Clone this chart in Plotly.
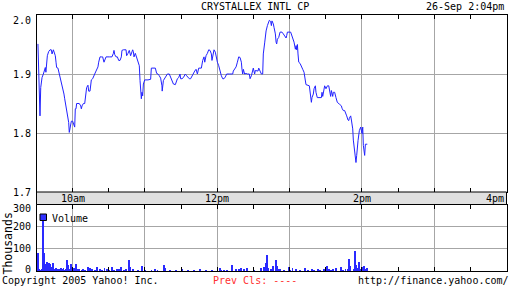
import plotly.graph_objects as go
import pandas as pd

# ---- data ----
session_start = "2005-09-26 09:30"
title_text = "CRYSTALLEX INTL CP"
stamp_text = "26-Sep 2:04pm"

price_minutes = [
    1.2, 1.8, 2.4, 2.9, 3.5, 4.6, 5.7, 6.8, 7.3, 7.8, 8.4, 9.0, 10.1, 11.2, 12.3, 12.9, 14.0, 14.8,
    15.6, 16.2, 16.7, 17.8, 18.4, 19.5, 20.6, 21.7, 22.8, 23.4, 24.5, 25.6, 26.7, 27.2, 27.8, 28.4,
    28.9, 30.0, 30.8, 31.7, 32.2, 32.8, 33.3, 35.5, 36.7, 37.2, 37.8, 38.9, 40.0, 40.5, 41.6, 42.7,
    43.3, 44.4, 44.9, 45.5, 46.6, 47.2, 48.3, 49.4, 49.9, 51.0, 51.6, 52.7, 53.8, 54.9, 56.0, 56.6,
    57.7, 60.4, 62.6, 63.8, 64.3, 64.9, 66.0, 67.1, 68.2, 69.3, 70.4, 70.9, 72.1, 74.3, 74.8, 75.9,
    77.0, 78.1, 79.2, 79.8, 80.4, 80.9, 82.0, 83.1, 84.2, 85.3, 85.9, 86.4, 87.0, 87.5, 88.1, 88.7,
    89.2, 89.8, 92.5,
    94.7, 95.3, 98.6, 99.7, 100.8, 101.9, 103.0, 104.1, 104.3, 105.3, 106.4, 107.5, 108.6, 110.2,
    111.3, 112.4, 113.6, 115.2, 115.8, 116.9, 118.0, 119.1, 119.6, 120.7, 121.9, 123.0, 123.5, 124.6,
    125.7, 126.8, 127.9, 129.0, 130.2, 131.3, 132.4, 133.5, 134.6, 136.8, 137.9, 139.0, 139.6, 140.7,
    141.8, 142.9, 144.0, 145.1, 145.6, 146.2, 147.3, 148.4, 149.0, 150.1, 151.2, 152.3, 153.4, 154.5,
    155.6, 156.7, 157.8, 160.0, 162.8, 163.3, 164.4, 165.6, 166.7, 167.8, 168.9, 170.0, 170.5, 171.1,
    171.6, 172.7, 173.9, 175.0, 176.6, 177.2, 178.3, 179.4, 179.9, 181.0, 181.6, 183.8,
    184.4, 185.5, 186.6, 187.7, 188.2, 189.4, 189.9, 190.5, 191.6, 192.7, 193.2, 194.3, 194.9, 195.4,
    196.5, 197.1, 198.2, 198.8, 199.3, 199.9, 201.0, 202.1, 203.7, 204.8, 205.9, 207.1, 207.6, 208.2,
    210.9, 211.5, 212.6, 213.7, 214.8, 215.4, 215.9, 216.5, 217.0, 217.6, 218.7, 219.8, 220.9, 222.0,
    223.1, 223.6, 226.4, 227.0, 228.1, 228.6, 229.7, 230.3, 231.4, 231.9, 233.0, 236.4, 236.9, 237.5,
    238.6, 239.1, 240.2, 241.4, 242.5, 243.6, 244.1, 244.7, 245.8, 246.3, 247.4, 248.5, 249.6, 251.3,
    253.0, 253.5, 254.6, 255.7, 256.8, 257.4, 258.5, 259.1, 259.6, 260.7, 261.3, 262.4, 262.9, 264.0,
    264.6, 265.1, 265.7, 266.3, 266.8, 267.9, 269.0, 270.1, 270.7, 271.2, 271.8, 272.3, 272.9, 274.5,
]
price_values = [
    1.951, 1.917, 1.858, 1.829, 1.877, 1.894, 1.900, 1.906, 1.911, 1.903, 1.917, 1.931, 1.938, 1.941, 1.941, 1.934, 1.941, 1.937,
    1.931, 1.920, 1.911, 1.910, 1.905, 1.897, 1.889, 1.875, 1.866, 1.858, 1.842, 1.827, 1.818, 1.801, 1.810, 1.815,
    1.820, 1.820, 1.815, 1.810, 1.841, 1.841, 1.850, 1.850, 1.846, 1.841, 1.846, 1.850, 1.850, 1.860, 1.877, 1.881,
    1.871, 1.871, 1.881, 1.890, 1.892, 1.894, 1.900, 1.905, 1.908, 1.912, 1.920, 1.929, 1.929, 1.929, 1.920, 1.923,
    1.929, 1.929, 1.929, 1.935, 1.940, 1.933, 1.929, 1.929, 1.923, 1.923, 1.929, 1.940, 1.941, 1.941, 1.931, 1.935,
    1.940, 1.931, 1.938, 1.941, 1.938, 1.929, 1.935, 1.929, 1.923, 1.914, 1.889, 1.880, 1.858, 1.869, 1.863, 1.883,
    1.886, 1.890, 1.890,
    1.891, 1.910, 1.910, 1.901, 1.900, 1.897, 1.893, 1.880, 1.871, 1.889, 1.892, 1.897, 1.900, 1.900,
    1.894, 1.889, 1.883, 1.882, 1.886, 1.892, 1.894, 1.900, 1.892, 1.892, 1.894, 1.897, 1.900, 1.897,
    1.894, 1.892, 1.892, 1.897, 1.900, 1.905, 1.908, 1.900, 1.910, 1.910, 1.923, 1.929, 1.920, 1.931,
    1.935, 1.941, 1.940, 1.934, 1.923, 1.929, 1.941, 1.937, 1.928, 1.920, 1.914, 1.903, 1.897, 1.892,
    1.892, 1.895, 1.900, 1.900, 1.900, 1.905, 1.908, 1.912, 1.920, 1.929, 1.928, 1.920, 1.908, 1.900,
    1.908, 1.900, 1.901, 1.900, 1.900, 1.892, 1.897, 1.905, 1.910, 1.900, 1.906, 1.905,
    1.910, 1.905, 1.900, 1.900, 1.934, 1.954, 1.965, 1.973, 1.982, 1.988, 1.991, 1.989, 1.982, 1.990,
    1.985, 1.979, 1.968, 1.954, 1.951, 1.959, 1.962, 1.971, 1.971, 1.968, 1.965, 1.961, 1.965, 1.971,
    1.971, 1.967, 1.959, 1.954, 1.942, 1.948, 1.941, 1.950, 1.934, 1.920, 1.918, 1.911, 1.908, 1.903,
    1.890, 1.882, 1.880, 1.866, 1.852, 1.860, 1.866, 1.875, 1.880, 1.869, 1.860, 1.860, 1.869, 1.862,
    1.872, 1.880, 1.875, 1.880, 1.880, 1.869, 1.862, 1.872, 1.862, 1.869, 1.869, 1.860, 1.852, 1.849,
    1.846, 1.842, 1.838, 1.838, 1.833, 1.829, 1.822, 1.821, 1.825, 1.829, 1.822, 1.807, 1.788, 1.770,
    1.756, 1.750, 1.762, 1.779, 1.787, 1.804, 1.810, 1.799, 1.810, 1.779, 1.773, 1.762, 1.781, 1.781,
]

volume_minutes = [
    1, 2, 3, 4, 5, 6, 7, 8, 9, 10, 11, 12, 13, 14, 15, 16, 17, 18, 19, 20, 21, 22, 23, 24, 25, 26, 27, 28, 29,
    31, 32, 33, 34, 35, 37, 38, 40, 42, 44, 46, 48, 50, 52, 54, 56, 58, 60, 62, 64, 66, 68, 70, 72, 74, 76, 77,
    80, 84, 87, 90, 95, 98, 100, 105, 106, 110, 115, 120, 125, 130, 135, 140, 145, 152, 153, 155, 158, 162, 165,
    168, 169, 172, 174, 180, 186, 188, 190, 191, 192, 194, 196, 198, 199, 200, 202, 205, 209, 210, 212, 215,
    218, 222, 225, 228, 230, 233, 235, 238, 241, 242, 244, 246, 248, 252, 254, 256, 258, 259, 260, 263, 264,
    265, 266, 267, 268, 270, 271, 272, 273, 274,
]
volume_thousands = [
    85, 10, 8, 12, 250, 85, 35, 45, 25, 40, 35, 20, 38, 12, 8, 15, 10, 12, 8, 15, 10, 18, 8, 12, 50, 30, 10, 35, 8,
    15, 35, 10, 8, 12, 6, 10, 8, 20, 15, 10, 8, 20, 12, 8, 15, 10, 6, 22, 8, 10, 12, 20, 8, 10, 50, 20,
    10, 8, 25, 8, 6, 10, 6, 30, 15, 5, 6, 12, 4, 6, 12, 6, 8, 15, 8, 6, 8, 28, 10,
    12, 15, 10, 15, 6, 15, 20, 40, 75, 15, 10, 25, 50, 25, 12, 10, 8, 22, 8, 15, 10,
    6, 15, 8, 10, 6, 10, 8, 12, 25, 10, 8, 12, 15, 22, 8, 12, 10, 58, 25, 10, 92, 30,
    15, 45, 10, 20, 25, 10, 8, 15, 8,
]

price_ticks = [2.0, 1.9, 1.8, 1.7]
volume_ticks = [300, 200, 100, 0]
hour_labels = ["10am", "12pm", "2pm", "4pm"]
hour_label_times = ["10:00", "12:00", "14:00", "16:00"]

# ---- figure ----
W, H = 512, 288
base = pd.Timestamp(session_start)
px_time = [base + pd.Timedelta(minutes=m) for m in price_minutes]
vol_time = [base + pd.Timedelta(minutes=m) for m in volume_minutes]
x_end = base + pd.Timedelta(minutes=390)

def fx(p):
    return p / W

def fy(p):
    return 1 - p / H

LEFT, RIGHT = 36.5, 506.5
MAIN_TOP, MAIN_BOT = 15, 192
VOL_TOP, VOL_BOT = 204.5, 271
FONT = "DejaVu Sans Mono"
GRID = "#a6a6a6"
BLUE = "#2222ff"

fig = go.Figure()
fig.add_trace(go.Scatter(x=px_time, y=price_values, mode="lines",
                         line=dict(color=BLUE, width=1), xaxis="x", yaxis="y",
                         hoverinfo="skip"))
fig.add_trace(go.Bar(x=vol_time, y=volume_thousands, width=48000,
                     marker=dict(color="#2a2aff", line=dict(width=0)),
                     xaxis="x2", yaxis="y2", hoverinfo="skip"))

xcommon = dict(type="date", range=[base, x_end], showgrid=True, gridcolor=GRID, gridwidth=1,
               tick0=base.strftime("%Y-%m-%d") + " 10:00", dtick=3600000,
               showticklabels=False, ticks="inside", ticklen=4, tickcolor="black",
               showline=True, linecolor="black", linewidth=1, mirror="ticks", zeroline=False,
               minor=dict(dtick=1800000, ticks="inside", ticklen=4, tickcolor="black", showgrid=False),
               domain=[fx(LEFT), fx(RIGHT)], fixedrange=True)

fig.update_layout(
    width=W, height=H, margin=dict(l=0, r=0, t=0, b=0),
    paper_bgcolor="white", plot_bgcolor="white", showlegend=False, bargap=0,
    xaxis=dict(**xcommon, anchor="y"),
    xaxis2=dict(**xcommon, anchor="y2", matches="x"),
    yaxis=dict(domain=[fy(MAIN_BOT), fy(MAIN_TOP)], range=[1.7, 2.0], tickvals=[1.8, 1.9],
               showgrid=True, gridcolor=GRID, showticklabels=False, ticks="",
               showline=True, linecolor="black", linewidth=1, mirror=True, zeroline=False,
               fixedrange=True),
    yaxis2=dict(domain=[fy(VOL_BOT), fy(VOL_TOP)], range=[0, 300], tickvals=[100, 200],
                showgrid=True, gridcolor=GRID, showticklabels=False, ticks="",
                showline=True, linecolor="black", linewidth=1, mirror=True, zeroline=False,
                fixedrange=True),
)

shapes = [
    dict(type="rect", xref="paper", yref="paper", x0=fx(LEFT), x1=fx(RIGHT),
         y0=fy(VOL_TOP), y1=fy(MAIN_BOT), fillcolor="#e0e0e0", line=dict(color="black", width=1), layer="above"),
    dict(type="rect", xref="paper", yref="paper", x0=fx(40), x1=fx(46.5),
         y0=fy(220.5), y1=fy(214), fillcolor="#3030ff", line=dict(color="black", width=1), layer="above"),
]

ann = []
def text(x, y, s, xanchor="left", color="black", size=10, **kw):
    ann.append(dict(x=fx(x), y=fy(y), xref="paper", yref="paper", text=s, showarrow=False,
                    xanchor=xanchor, yanchor="middle", font=dict(family=FONT, size=size, color=color), **kw))

text(254.5, 6.5, title_text, "center")
text(506, 6.5, stamp_text, "right")
text(0, 280, "Copyright 2005 Yahoo! Inc.", "left")
text(211, 280, "Prev Cls: ----", "left", color="#ff3030")
text(511, 280, "http://finance.yahoo.com/", "right")
text(49.5, 218.5, "Volume", "left")
text(7.5, 244, "Thousands", "center", size=11.5, textangle=-90)

# y tick labels
for v in price_ticks:
    shift = -5 if v == 2.0 else 0
    ann.append(dict(x=fx(33), y=v, xref="paper", yref="y", text=f"{v:.1f}", showarrow=False,
                    xanchor="right", yanchor="middle", yshift=shift,
                    font=dict(family=FONT, size=10, color="black")))
for v in volume_ticks:
    shift = -4 if v == 300 else (2 if v == 0 else 0)
    ann.append(dict(x=fx(33), y=v, xref="paper", yref="y2", text=str(v), showarrow=False,
                    xanchor="right", yanchor="middle", yshift=shift,
                    font=dict(family=FONT, size=10, color="black")))

# time labels in band
band_mid = (MAIN_BOT + VOL_TOP) / 2
for lab, t in zip(hour_labels, hour_label_times):
    tt = pd.Timestamp(base.strftime("%Y-%m-%d") + " " + t)
    anchor = "right" if t == "16:00" else "center"
    ann.append(dict(x=tt, y=fy(band_mid), xref="x", yref="paper", text=lab, showarrow=False,
                    xanchor=anchor, yanchor="middle", xshift=(-1 if anchor == "right" else 0),
                    font=dict(family=FONT, size=10, color="black")))

fig.update_layout(shapes=shapes, annotations=ann)
fig.write_html("out.html", config={"displayModeBar": False})
